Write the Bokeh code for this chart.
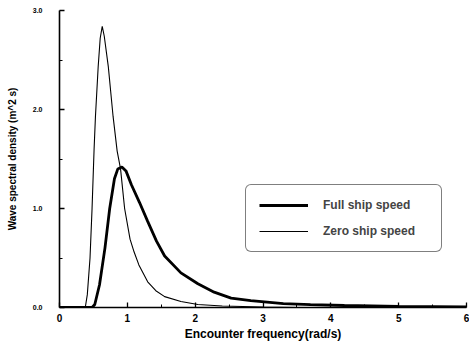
from bokeh.plotting import figure
from bokeh.models import Legend, LegendItem, FixedTicker, NumeralTickFormatter, Range1d
from bokeh.embed import file_html
from bokeh.resources import INLINE

# Encounter frequency (rad/s) and spectral density (m^2 s)
zero_freq = [0.0, 0.36, 0.38, 0.41, 0.45, 0.48, 0.51, 0.53, 0.57, 0.60, 0.63, 0.66,
             0.72, 0.79, 0.85, 0.90, 0.96, 1.04, 1.10, 1.17, 1.30, 1.42, 1.55, 1.79,
             2.04, 2.40, 3.00, 3.50, 6.00]
zero_density = [0.0, 0.0, 0.0, 0.13, 0.50, 1.00, 1.60, 1.93, 2.43, 2.72, 2.84, 2.74,
                2.43, 1.93, 1.58, 1.40, 1.00, 0.69, 0.56, 0.43, 0.26, 0.17, 0.11, 0.06,
                0.03, 0.015, 0.005, 0.0, 0.0]

full_freq = [0.0, 0.48, 0.52, 0.59, 0.67, 0.74, 0.81, 0.86, 0.92, 0.98, 1.06, 1.18,
             1.30, 1.43, 1.55, 1.79, 2.04, 2.28, 2.53, 2.82, 3.30, 3.70, 4.20, 5.00, 6.00]
full_density = [0.0, 0.0, 0.03, 0.23, 0.60, 1.00, 1.30, 1.40, 1.42, 1.38, 1.24, 1.06,
                0.87, 0.67, 0.52, 0.35, 0.24, 0.155, 0.095, 0.07, 0.04, 0.03, 0.02, 0.01, 0.005]

x_ticks = [0, 1, 2, 3, 4, 5, 6]
x_minor = [0.5, 1.5, 2.5, 3.5, 4.5, 5.5]
y_ticks = [0, 1, 2, 3]
y_minor = [0.5, 1.5, 2.5]

FONT = "Liberation Sans"

p = figure(width=469, height=343, output_backend="svg", toolbar_location=None,
           x_range=Range1d(0, 6), y_range=Range1d(0, 3.0),
           min_border_left=59, min_border_right=3, min_border_top=10, min_border_bottom=36)
p.outline_line_color = None
p.grid.visible = False
p.background_fill_color = "white"

l_full = p.line(full_freq, full_density, line_color="black", line_width=2.8)
l_zero = p.line(zero_freq, zero_density, line_color="black", line_width=1.1)

for ax in (p.xaxis[0], p.yaxis[0]):
    ax.axis_line_width = 1.6
    ax.axis_line_color = "black"
    ax.major_tick_in = 5
    ax.major_tick_out = 0
    ax.minor_tick_in = 3
    ax.minor_tick_out = 0
    ax.major_tick_line_width = 1.3
    ax.minor_tick_line_width = 1
    ax.major_label_text_font = FONT
    ax.major_label_text_font_style = "bold"
    ax.axis_label_text_font = FONT
    ax.axis_label_text_font_style = "bold"
    ax.major_label_text_color = "black"
    ax.axis_label_text_color = "black"

p.xaxis.ticker = FixedTicker(ticks=x_ticks, minor_ticks=x_minor)
p.yaxis.ticker = FixedTicker(ticks=y_ticks, minor_ticks=y_minor)
p.yaxis.formatter = NumeralTickFormatter(format="0.0")

p.xaxis.axis_label = "Encounter frequency(rad/s)"
p.xaxis.major_label_text_font_size = "10px"
p.xaxis.axis_label_text_font_size = "12px"
p.xaxis.major_label_standoff = 6
p.xaxis.axis_label_standoff = 2

p.yaxis.axis_label = "Wave spectral density (m^2 s)"
p.yaxis.major_label_text_font_size = "7px"
p.yaxis.axis_label_text_font_size = "10px"
p.yaxis.major_label_standoff = 17
p.yaxis.axis_label_standoff = 12

legend = Legend(items=[LegendItem(label="Full ship speed", renderers=[l_full]),
                       LegendItem(label="Zero ship speed", renderers=[l_zero])],
                location=(186, 55), orientation="vertical")
legend.padding = 13
legend.spacing = 12
legend.margin = 0
legend.glyph_width = 49
legend.glyph_height = 8
legend.label_height = 8
legend.label_width = 105
legend.label_standoff = 15
legend.label_text_font = FONT
legend.label_text_font_style = "bold"
legend.label_text_font_size = "12px"
legend.border_line_color = "black"
legend.border_line_width = 1.5
legend.background_fill_alpha = 1.0
try:
    legend.border_radius = 6
except Exception:
    pass
p.add_layout(legend, "center")

open("out.html", "w").write(file_html(p, INLINE))
